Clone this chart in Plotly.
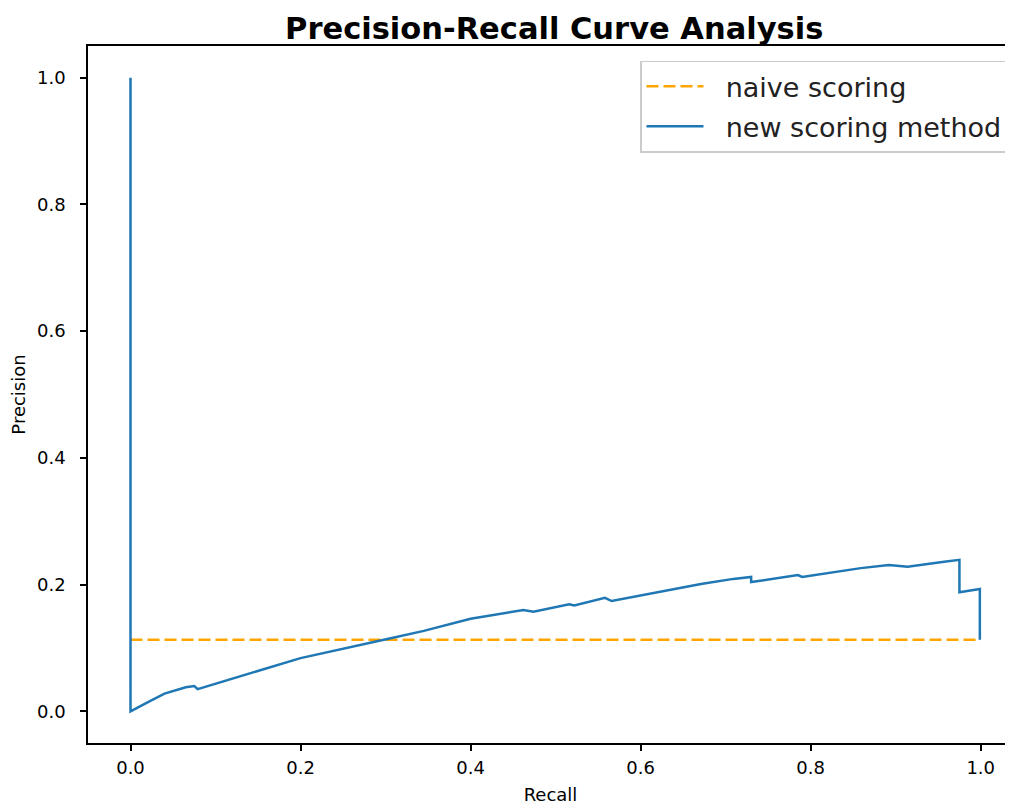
import plotly.graph_objects as go

# baseline: positive rate
naive_recall = [0.0, 1.0]
naive_precision = [0.113, 0.113]

# new scoring method
recall = [0.0, 0.0, 0.02, 0.04, 0.065, 0.075, 0.079, 0.12, 0.2, 0.302, 0.345,
          0.40, 0.462, 0.474, 0.516, 0.522, 0.558, 0.566, 0.621, 0.671, 0.709,
          0.730, 0.730, 0.785, 0.790, 0.859, 0.892, 0.914, 0.957, 0.975,
          0.975, 0.999, 0.999]
precision = [1.0, 0.0, 0.014, 0.028, 0.038, 0.040, 0.035, 0.052, 0.084, 0.114, 0.127,
             0.146, 0.160, 0.157, 0.169, 0.167, 0.179, 0.174, 0.188, 0.201, 0.209,
             0.212, 0.204, 0.215, 0.212, 0.226, 0.231, 0.228, 0.236, 0.239,
             0.188, 0.193, 0.113]

x_ticks = [0.0, 0.2, 0.4, 0.6, 0.8, 1.0]
y_ticks = [0.0, 0.2, 0.4, 0.6, 0.8, 1.0]

FONT = 'DejaVu Sans'
GAP = '\u00a0\u00a0'  # little gap between legend line and label

fig = go.Figure()
fig.add_trace(go.Scatter(
    x=naive_recall, y=naive_precision, mode='lines', name=GAP + 'naive scoring',
    legendgroup='a',
    line=dict(color='#ffa500', width=2.5, dash='12px,5px')
))
fig.add_trace(go.Scatter(
    x=recall, y=precision, mode='lines', name=GAP + 'new scoring method',
    legendgroup='b',
    line=dict(color='#1f77b4', width=2.5)
))

axis_style = dict(
    showgrid=False, zeroline=False, showline=True, linecolor='black', linewidth=1.5,
    ticks='outside', ticklen=6, tickwidth=1.5, tickcolor='black',
    tickfont=dict(family=FONT, size=18, color='black'),
)

# the page body adds an 8px offset; the reference crops the right side of the axes,
# so the x range stops a little short of the usual +5% padding
fig.update_layout(
    width=1005, height=802,
    margin=dict(l=80, r=0, t=38, b=67),
    paper_bgcolor='white', plot_bgcolor='white',
    title=dict(text='<b>Precision-Recall Curve Analysis</b>', x=0.504, xref='paper',
               xanchor='center', y=0.975, yanchor='middle',
               font=dict(family=FONT, size=30.5, color='black')),
    xaxis=dict(range=[-0.05, 1.038], tickvals=x_ticks, tickformat='.1f', mirror=True,
               ticklabelstandoff=2,
               title=dict(text='Recall', standoff=11,
                          font=dict(family=FONT, size=18, color='black')),
               **axis_style),
    yaxis=dict(range=[-0.05, 1.05], tickvals=y_ticks, tickformat='.1f', mirror=False,
               ticklabelstandoff=11,
               title=dict(text='Precision', standoff=7,
                          font=dict(family=FONT, size=18, color='black')),
               **axis_style),
    legend=dict(x=0.9946, y=0.979, xanchor='right', yanchor='top',
                bgcolor='white', bordercolor='#cccccc', borderwidth=1.5,
                tracegroupgap=2, itemwidth=57,
                font=dict(family=FONT, size=27, color='#222222')),
    showlegend=True,
)

fig.write_html("out.html")
